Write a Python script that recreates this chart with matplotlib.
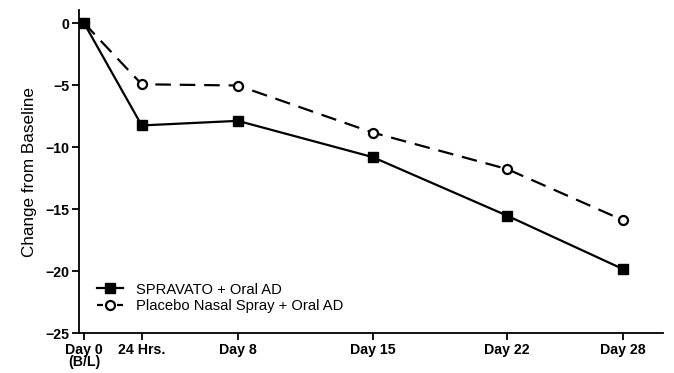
import matplotlib
matplotlib.use("Agg")
import matplotlib.pyplot as plt

# Data
x_pos = [0, 3, 8, 15, 22, 28]
tick_labels = ["Day 0\n(B/L)", "24 Hrs.", "Day 8", "Day 15", "Day 22", "Day 28"]
spravato = [0.0, -8.26, -7.89, -10.81, -15.54, -19.83]
placebo = [0.0, -4.94, -5.04, -8.83, -11.78, -15.89]
series_names = ["SPRAVATO + Oral AD", "Placebo Nasal Spray + Oral AD"]
y_ticks = [0, -5, -10, -15, -20, -25]

plt.rcParams['font.family'] = ['Liberation Sans', 'DejaVu Sans']

fig = plt.figure(figsize=(6.74, 3.73), dpi=100)
ax = fig.add_axes([0.1172, 0.1072, 0.8665, 0.866])

ax.plot(x_pos, placebo, color='black', lw=1.6, dashes=(7, 4),
        marker='o', markersize=6.5, markerfacecolor='white',
        markeredgecolor='black', markeredgewidth=1.6,
        label=series_names[1], zorder=2)
ax.plot(x_pos, spravato, color='black', lw=1.6, marker='s',
        markersize=7.5, markerfacecolor='black', markeredgecolor='black',
        label=series_names[0], zorder=3)

ax.set_xlim(-0.26, 30.1)
ax.set_ylim(-25, 1.05)
ax.set_xticks(x_pos)
ax.set_xticklabels(tick_labels, fontweight='bold', fontsize=10.2, linespacing=0.85)
ax.set_yticks(y_ticks)
ax.set_yticklabels([str(v).replace('-', '\u2212') for v in y_ticks],
                   fontweight='bold', fontsize=10.2)
ax.tick_params(axis='both', direction='out', length=5, width=1.3, pad=2)
ax.set_ylabel("Change from Baseline", fontsize=12.3, labelpad=6)

for s in ['top', 'right']:
    ax.spines[s].set_visible(False)
for s in ['left', 'bottom']:
    ax.spines[s].set_linewidth(1.3)

handles, labels = ax.get_legend_handles_labels()
leg = ax.legend(handles[::-1], labels[::-1], loc='lower left',
                bbox_to_anchor=(0.02, 0.043), frameon=False, fontsize=10.6,
                handlelength=1.8, handletextpad=0.9, labelspacing=0.18,
                borderaxespad=0)
leg.legend_handles[1].set_dashes((2.7, 6.3))

fig.savefig("out.png", dpi=100)
